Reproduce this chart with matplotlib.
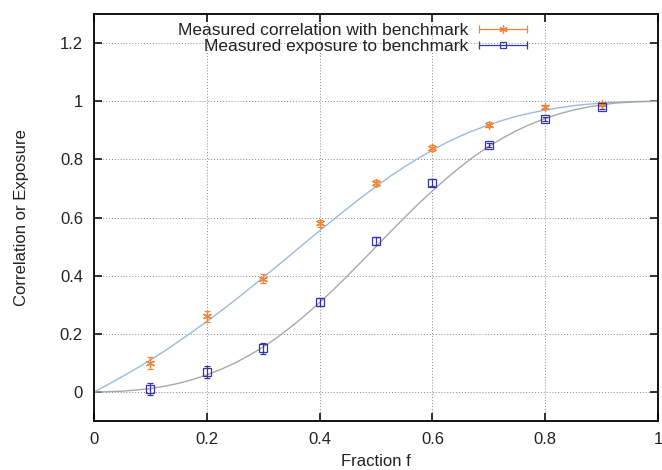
import matplotlib
matplotlib.use("Agg")
import matplotlib.pyplot as plt
from matplotlib.lines import Line2D
from matplotlib.legend_handler import HandlerBase

plt.rcParams['font.family'] = ['Liberation Sans', 'DejaVu Sans']

# model curves
curve_f = [0.0, 0.025, 0.05, 0.075, 0.1, 0.125, 0.15, 0.175, 0.2, 0.225,
           0.25, 0.275, 0.3, 0.325, 0.35, 0.375, 0.4, 0.425, 0.45, 0.475,
           0.5, 0.525, 0.55, 0.575, 0.6, 0.625, 0.65, 0.675, 0.7, 0.725,
           0.75, 0.775, 0.8, 0.825, 0.85, 0.875, 0.9, 0.925, 0.95, 0.975, 1.0]
curve_corr = [0.0, 0.026, 0.053, 0.081, 0.110, 0.141, 0.174, 0.208, 0.243, 0.279,
              0.316, 0.355, 0.394, 0.434, 0.474, 0.515, 0.555, 0.594, 0.633, 0.671,
              0.707, 0.742, 0.774, 0.804, 0.832, 0.858, 0.881, 0.901, 0.919, 0.935,
              0.949, 0.960, 0.970, 0.978, 0.985, 0.990, 0.994, 0.997, 0.999, 1.0, 1.0]
curve_expo = [0.0, 0.001, 0.003, 0.007, 0.012, 0.020, 0.030, 0.043, 0.059, 0.078,
              0.100, 0.126, 0.155, 0.188, 0.225, 0.265, 0.308, 0.353, 0.401, 0.450,
              0.500, 0.550, 0.599, 0.647, 0.692, 0.735, 0.775, 0.812, 0.845, 0.874,
              0.900, 0.922, 0.941, 0.957, 0.970, 0.980, 0.988, 0.994, 0.997, 0.999, 1.0]

# measured points
meas_f = [0.1, 0.2, 0.3, 0.4, 0.5, 0.6, 0.7, 0.8, 0.9]
meas_corr = [0.10, 0.26, 0.39, 0.58, 0.72, 0.84, 0.92, 0.98, 0.99]
corr_err = [0.02, 0.02, 0.015, 0.012, 0.01, 0.01, 0.008, 0.007, 0.006]
meas_expo = [0.01, 0.07, 0.15, 0.31, 0.52, 0.72, 0.85, 0.94, 0.98]
expo_err = [0.02, 0.02, 0.018, 0.015, 0.013, 0.012, 0.008, 0.007, 0.007]

orange = '#f0853a'
blue = '#3535a8'


class ErrKeyHandler(HandlerBase):
    """gnuplot style key: horizontal bar with end caps and point in the middle"""
    def create_artists(self, legend, orig, xd, yd, w, h, fontsize, trans):
        y = yd + h / 2
        c = orig.get_color()
        bar = Line2D([xd, xd + w], [y, y], color=c, lw=0.9)
        caps = Line2D([xd, xd + w], [y, y], color=c, ls='none', marker='|', ms=6, mew=0.9)
        pt = Line2D([xd + w / 2], [y], color=c, ls='none', marker=orig.get_marker(),
                    ms=orig.get_markersize(), mfc='none', mew=0.9)
        for a in (bar, caps, pt):
            a.set_transform(trans)
        return [bar, caps, pt]


fig = plt.figure(figsize=(6.62, 4.70), dpi=100)
ax = fig.add_axes([0.142, 0.104, 0.852, 0.866])

ax.plot(curve_f, curve_corr, color='#9db9df', lw=1.0, zorder=2)
ax.plot(curve_f, curve_expo, color='#a8a8a8', lw=1.0, zorder=2)

ax.errorbar(meas_f, meas_corr, yerr=corr_err, fmt='none', ecolor=orange,
            elinewidth=0.9, capsize=2.5, capthick=0.9, zorder=3)
ax.plot(meas_f, meas_corr, ls='none', marker=(6, 2, 0), ms=6.5, color=orange, mew=0.9, zorder=4)
ax.errorbar(meas_f, meas_expo, yerr=expo_err, fmt='none', ecolor=blue,
            elinewidth=0.9, capsize=2.5, capthick=0.9, zorder=3)
ax.plot(meas_f, meas_expo, ls='none', marker='s', ms=5.8, color=blue, mfc='none', mew=0.9, zorder=4)

ax.set_xlim(0, 1)
ax.set_ylim(-0.1, 1.3)
ax.set_xticks([0, 0.2, 0.4, 0.6, 0.8, 1])
ax.set_xticklabels(['0', '0.2', '0.4', '0.6', '0.8', '1'])
ax.set_yticks([0, 0.2, 0.4, 0.6, 0.8, 1, 1.2])
ax.set_yticklabels(['0', '0.2', '0.4', '0.6', '0.8', '1', '1.2'])
ax.tick_params(direction='in', length=6, width=1.3, top=True, right=True,
               labelsize=12, pad=8, colors='#222222')
ax.grid(True, ls=(0, (1, 2)), color='#888888', lw=0.7)
for s in ax.spines.values():
    s.set_linewidth(1.3)
ax.set_xlabel('Fraction f', fontsize=12, labelpad=5, color='#222222')
ax.set_ylabel('Correlation or Exposure', fontsize=12, labelpad=22, color='#222222')

h1 = Line2D([], [], color=orange, marker=(6, 2, 0), ms=6)
h2 = Line2D([], [], color=blue, marker='s', ms=5)
ax.legend([h1, h2], ['Measured correlation with benchmark', 'Measured exposure to benchmark'],
          handler_map={Line2D: ErrKeyHandler()}, loc='upper right',
          bbox_to_anchor=(0.768, 0.978), frameon=False, markerfirst=False,
          fontsize=12.5, handlelength=2.8, handletextpad=0.6, labelspacing=0.05,
          borderpad=0.0, borderaxespad=0.0, labelcolor='#222222')

fig.savefig('out.png', dpi=100)
